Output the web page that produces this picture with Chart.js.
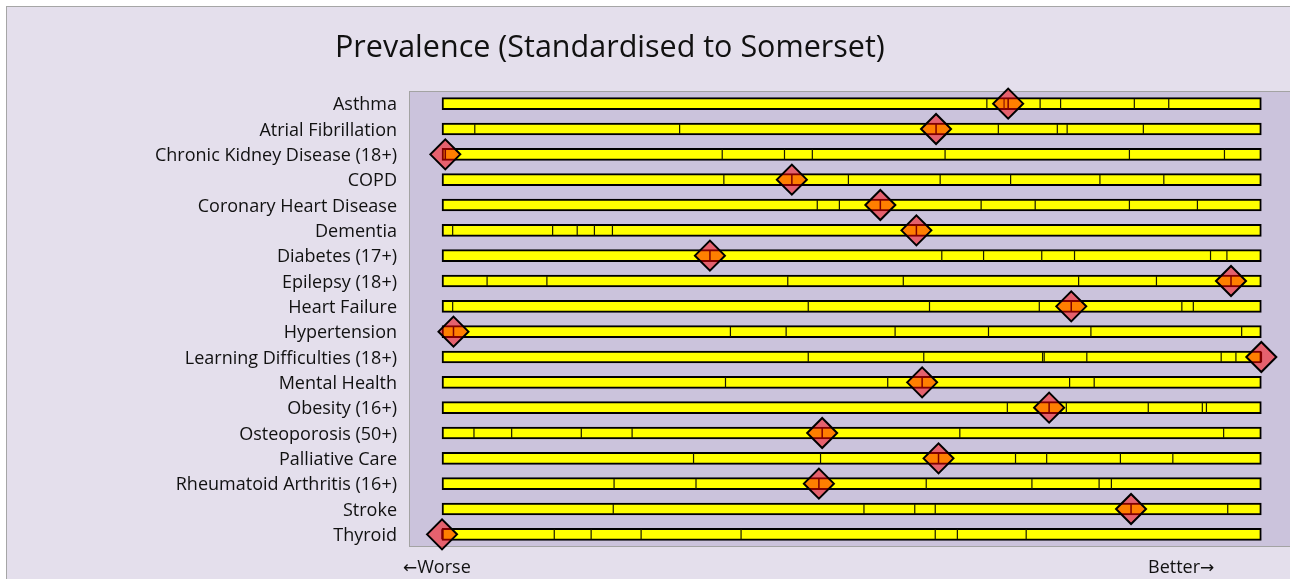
<!DOCTYPE html>
<html>
<head>
<meta charset="utf-8">
<script src="https://cdn.jsdelivr.net/npm/chart.js@4/dist/chart.umd.min.js"></script>
<style>
  html, body { margin: 0; padding: 0; overflow: hidden; background: #ffffff; font-family: "Open Sans", sans-serif; }
  #frame { position: absolute; left: 6px; top: 6px; width: 1290px; height: 579px;
           border-left: 1.5px solid #a6a6a6; border-top: 1.5px solid #a6a6a6; background: #e4dfec; }
  #wrap { position: absolute; left: 0; top: 0; width: 1290px; height: 579px; }
  #myChart { display: block; }
  .txt { position: absolute; color: #111; white-space: nowrap; line-height: 1; }
  .arrow { font-family: "DejaVu Sans", sans-serif; font-size: 17px; }
  #title { left: 335px; top: 30px; font-size: 30.5px; }
  #worse { left: 403px; top: 557px; font-size: 18px; }
  #better { left: 1148px; top: 557px; font-size: 18px; }
</style>
</head>
<body>
<div id="frame"></div>
<div id="wrap"><canvas id="myChart" width="1290" height="579"></canvas></div>
<div class="txt" id="title">Prevalence (Standardised to Somerset)</div>
<div class="txt" id="worse"><span class="arrow">&larr;</span>Worse</div>
<div class="txt" id="better">Better<span class="arrow">&rarr;</span></div>
<script>
const conditions = [
    'Asthma', 'Atrial Fibrillation', 'Chronic Kidney Disease (18+)', 'COPD',
    'Coronary Heart Disease', 'Dementia', 'Diabetes (17+)', 'Epilepsy (18+)',
    'Heart Failure', 'Hypertension', 'Learning Difficulties (18+)', 'Mental Health',
    'Obesity (16+)', 'Osteoporosis (50+)', 'Palliative Care', 'Rheumatoid Arthritis (16+)',
    'Stroke', 'Thyroid'
]

// practice position on the spine (0 = worst, 100 = best)
const scores = [69.1, 60.3, 0.4, 42.7, 53.5, 57.9, 32.7, 96.3, 76.8, 1.4, 100, 58.6, 74.1, 46.4, 60.6, 46.0, 84.1, 0]

// segment breaks along each spine
const segmentBreaks = [
    [66.5, 68.6, 73.0, 75.5, 84.5, 88.7],
    [4.0, 29.0, 67.9, 75.1, 76.3, 85.6],
    [34.2, 41.8, 45.2, 61.4, 83.9, 95.5],
    [34.4, 49.6, 60.8, 69.4, 80.3, 88.1],
    [45.8, 48.5, 65.8, 72.4, 83.9, 92.2],
    [1.3, 13.5, 16.5, 18.6, 20.8],
    [61.0, 66.1, 73.2, 77.2, 93.8, 95.8],
    [5.5, 12.8, 42.2, 56.3, 77.7, 87.2],
    [1.3, 44.7, 59.5, 72.9, 90.3, 91.7],
    [35.2, 42.0, 55.3, 66.7, 79.2, 97.6],
    [44.7, 58.8, 73.3, 73.5, 78.7, 95.1, 96.9],
    [34.6, 54.4, 76.6, 79.6],
    [69.0, 76.2, 86.2, 92.8, 93.3],
    [3.9, 8.5, 17.0, 23.2, 63.2, 95.4],
    [30.7, 46.2, 70.0, 73.8, 82.8, 89.2],
    [21.0, 31.0, 59.1, 72.0, 80.2, 81.7],
    [20.9, 51.5, 57.7, 60.2, 95.9],
    [13.7, 18.2, 24.3, 36.5, 60.2, 62.9, 71.3]
]

const spineRange = [0, 100]

const plotBackground = {
    id: 'plotBackground',
    beforeDraw: (chart) => {
        let { ctx, chartArea } = chart
        ctx.save()
        ctx.fillStyle = '#cbc3dc'
        ctx.fillRect(chartArea.left, chartArea.top, chartArea.width, chartArea.height)
        ctx.strokeStyle = '#a3a3a3'
        ctx.lineWidth = 1
        ctx.strokeRect(chartArea.left + 0.5, chartArea.top + 0.5, chartArea.width + 2, chartArea.height - 1)
        ctx.restore()
    }
}

let breakPoints = []
segmentBreaks.forEach((list, i) => {
    list.forEach(b => breakPoints.push({ x: b, y: conditions[i] }))
})
let scorePoints = scores.map((s, i) => ({ x: s, y: conditions[i] }))

const ctx = document.getElementById('myChart')
new Chart(ctx, {
    type: 'bar',
    data: {
        labels: conditions,
        datasets: [
            {
                label: 'Marker',
                type: 'scatter',
                data: scorePoints,
                pointStyle: 'rectRot',
                pointRadius: 15,
                pointBackgroundColor: 'rgba(255, 0, 0, 0.5)',
                pointBorderColor: '#000000',
                pointBorderWidth: 2,
                order: 1
            },
            {
                label: 'Score line',
                type: 'scatter',
                data: scorePoints,
                pointStyle: 'line',
                rotation: 90,
                pointRadius: 5,
                pointBorderColor: '#000000',
                pointBorderWidth: 1.5,
                order: 2
            },
            {
                label: 'Breaks',
                type: 'scatter',
                data: breakPoints,
                pointStyle: 'line',
                rotation: 90,
                pointRadius: 5,
                pointBorderColor: '#1a1a00',
                pointBorderWidth: 1.2,
                order: 3
            },
            {
                label: 'Spine',
                data: conditions.map(() => spineRange),
                backgroundColor: '#ffff00',
                borderColor: '#000000',
                borderWidth: 2,
                borderSkipped: false,
                barThickness: 12,
                order: 4
            }
        ]
    },
    options: {
        indexAxis: 'y',
        responsive: false,
        animation: false,
        layout: { autoPadding: false, padding: { top: 91, bottom: 32, left: 0, right: 0 } },
        plugins: {
            legend: { display: false },
            tooltip: { enabled: false }
        },
        scales: {
            x: {
                type: 'linear',
                min: -4.03,
                max: 103.5,
                display: false
            },
            y: {
                type: 'category',
                offset: true,
                grid: { display: false, drawTicks: false },
                border: { display: false },
                afterFit: (scale) => { scale.width = 409 },
                ticks: {
                    padding: 12,
                    labelOffset: 1.5,
                    color: '#111111',
                    font: { family: 'Open Sans', size: 18 }
                }
            }
        }
    },
    plugins: [plotBackground]
})
</script>
</body>
</html>
